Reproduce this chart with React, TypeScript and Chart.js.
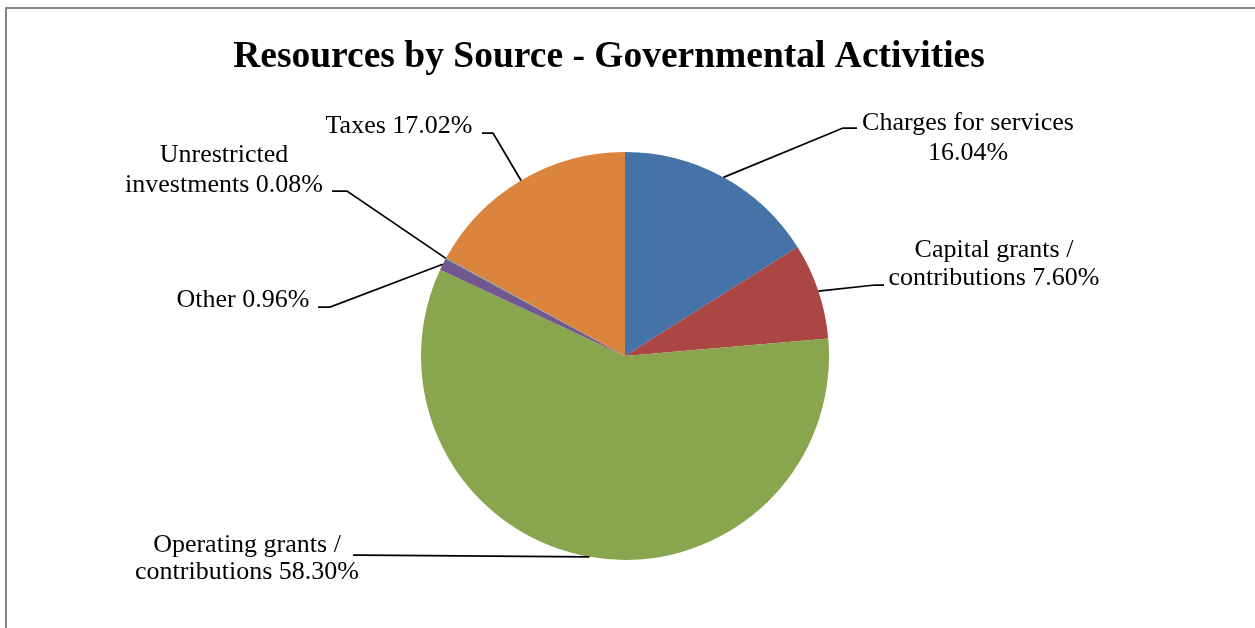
import { useEffect, useRef } from "react";
import { Chart, registerables } from "chart.js";

Chart.register(...registerables);

const categories = [
  "Charges for services",
  "Capital grants / contributions",
  "Operating grants / contributions",
  "Other",
  "Unrestricted investments",
  "Taxes",
];
const values = [16.04, 7.6, 58.3, 0.96, 0.08, 17.02];
const colors = ["#4572A7", "#AA4643", "#89A54E", "#71588F", "#4198AF", "#DB843D"];
const titleText = "Resources by Source - Governmental Activities";

// label layout: words on first line, text centre / baselines / leader points, relative to pie centre
const labelLayout = [
  { n: 3, tx: 343, by: [-226, -196], elbow: [218, -228], end: [232, -228] },
  { n: 3, tx: 369, by: [-99, -71], elbow: [250, -71], end: [259, -71] },
  { n: 3, tx: -378, by: [196, 223], elbow: [-263, 199], end: [-272, 199] },
  { n: 99, tx: -382, by: [-49], elbow: [-295, -49], end: [-307, -49] },
  { n: 1, tx: -401, by: [-194, -164], elbow: [-278, -165], end: [-293, -165] },
  { n: 99, tx: -226, by: [-223], elbow: [-132, -223], end: [-143, -223] },
];

const labelPlugin = {
  id: "customLabels",
  afterDraw(chart: any) {
    const ctx = chart.ctx;
    const meta = chart.getDatasetMeta(0);
    ctx.save();
    // frame
    ctx.strokeStyle = "#878787";
    ctx.lineWidth = 2;
    ctx.beginPath();
    ctx.moveTo(6, chart.height);
    ctx.lineTo(6, 8);
    ctx.lineTo(chart.width, 8);
    ctx.stroke();
    // title
    ctx.fillStyle = "#000";
    ctx.font = "bold 37.5px 'Liberation Serif', 'Times New Roman', serif";
    ctx.textAlign = "center";
    ctx.textBaseline = "alphabetic";
    ctx.fillText(titleText, 609, 67);

    ctx.font = "26px 'Liberation Serif', 'Times New Roman', serif";
    meta.data.forEach((arc: any, i: number) => {
      const p = arc.getProps(["x", "y", "startAngle", "endAngle", "outerRadius"], true);
      const mid = (p.startAngle + p.endAngle) / 2;
      const ax = p.x + Math.cos(mid) * p.outerRadius;
      const ay = p.y + Math.sin(mid) * p.outerRadius;
      const L = labelLayout[i];
      ctx.strokeStyle = "#000";
      ctx.lineWidth = 1.75;
      ctx.beginPath();
      ctx.moveTo(ax, ay);
      ctx.lineTo(p.x + L.elbow[0], p.y + L.elbow[1]);
      ctx.lineTo(p.x + L.end[0], p.y + L.end[1]);
      ctx.stroke();
      const words = `${categories[i]} ${values[i].toFixed(2)}%`.split(" ");
      const lines = [words.slice(0, L.n).join(" ")];
      if (words.length > L.n) lines.push(words.slice(L.n).join(" "));
      lines.forEach((t, k) => {
        ctx.fillText(t, p.x + L.tx, p.y + L.by[k]);
      });
    });
    ctx.restore();
  },
};

export default function App() {
  const ref = useRef<HTMLCanvasElement | null>(null);
  useEffect(() => {
    if (!ref.current) return;
    const chart = new Chart(ref.current, {
      type: "pie",
      data: {
        labels: categories,
        datasets: [
          {
            data: values,
            backgroundColor: colors,
            borderWidth: 0,
          },
        ],
      },
      options: {
        responsive: false,
        animation: false,
        layout: { padding: { left: 420, right: 425, top: 152, bottom: 68 } },
        plugins: {
          legend: { display: false },
          tooltip: { enabled: false },
          title: { display: false },
        },
      },
      plugins: [labelPlugin],
    });
    return () => chart.destroy();
  }, []);
  return (
    <div style={{ position: "fixed", left: 0, top: 0, width: 1255, height: 628, background: "#fff" }}>
      <canvas ref={ref} width={1255} height={628} style={{ display: "block" }} />
    </div>
  );
}
